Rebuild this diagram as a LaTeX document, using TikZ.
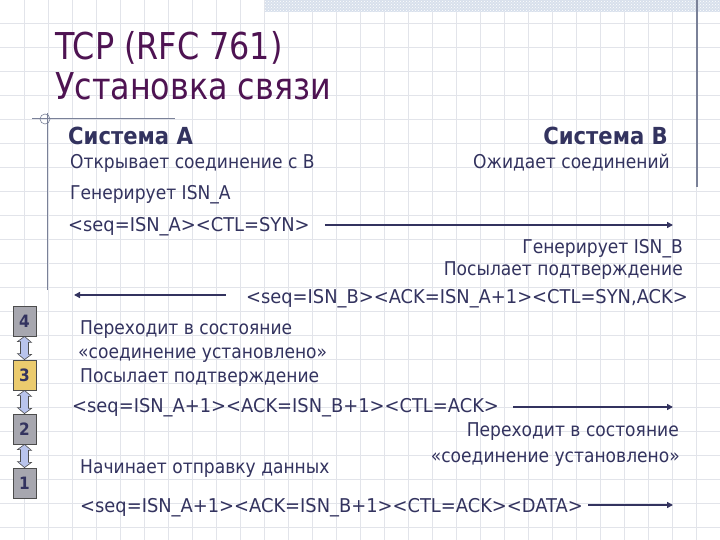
\documentclass[tikz,border=0pt]{standalone}
\usepackage{fontspec}
\setmainfont[FakeStretch=0.9]{DejaVu Sans}
\newfontfamily\titlefont[FakeStretch=0.86]{DejaVu Sans}
\newfontfamily\msgfont[FakeStretch=0.94]{DejaVu Sans}
\usetikzlibrary{arrows.meta,patterns}
\definecolor{gridc}{HTML}{E2E4EA}
\definecolor{bandc}{HTML}{D8E0EC}
\definecolor{linec}{HTML}{7A8198}
\definecolor{titlec}{HTML}{4E1352}
\definecolor{txtc}{HTML}{33335F}
\definecolor{boxgray}{HTML}{A7A7AF}
\definecolor{boxyel}{HTML}{EBCB6E}
\definecolor{arrfill}{HTML}{B9C4EC}
\tikzset{
  title/.style={anchor=base west, inner sep=0pt, text=titlec, font=\titlefont\fontsize{37}{40}\selectfont},
  head/.style={inner sep=0pt, text=txtc, font=\fontsize{23.5}{26}\selectfont\bfseries},
  txtL/.style={anchor=base west, inner sep=0pt, text=txtc, font=\fontsize{19}{21}\selectfont},
  txtR/.style={anchor=base east, inner sep=0pt, text=txtc, font=\fontsize{19}{21}\selectfont},
  msgL/.style={txtL, font=\msgfont\fontsize{19}{21}\selectfont},
  msgR/.style={txtR, font=\msgfont\fontsize{19}{21}\selectfont},
  msg/.style={draw=txtc, line width=2pt, -{Triangle[length=6pt,width=6pt]}},
  numbox/.style={draw=black!70, line width=0.8pt, minimum width=23pt, minimum height=30pt, inner sep=0pt, text=txtc, font=\fontsize{17}{18}\selectfont\bfseries},
  dblarr/.style={draw=black!70, fill=arrfill, line width=0.6pt, line join=miter}
}
\begin{document}
\begin{tikzpicture}[x=1pt,y=-1pt]
\useasboundingbox (0,0) rectangle (720,540);
\fill[white] (0,0) rectangle (720,540);
% grid
\foreach \i in {1,...,29} \draw[gridc, line width=0.7pt] (24*\i,0) -- (24*\i,540);
\foreach \j in {1,...,22} \draw[gridc, line width=0.7pt] (0,24*\j-1) -- (720,24*\j-1);
% hatched band
\fill[bandc] (265,0) rectangle (720,12);
\fill[pattern=crosshatch dots, pattern color=white] (265,0) rectangle (720,12);
% frame lines
\draw[linec, line width=1.2pt] (697,0) -- (697,187);
\draw[linec, line width=1pt] (47,113) -- (47,290);
\draw[linec, line width=1pt] (32,119) -- (175,119);
\draw[linec, line width=0.6pt] (45,119) circle (5);
% title
\node[title] (t1) at (55,60) {TCP (RFC 761)};
\node[title] (t2) at (55,100) {Установка связи};
% headers
\node[head, anchor=base west] (hA) at (68,145) {Система А};
\node[head, anchor=base east] (hB) at (668,145) {Система B};
% system A texts
\node[txtL] (a1) at (70,169) {Открывает соединение с В};
\node[txtL] (a2) at (70,200) {Генерирует ISN\_A};
\node[msgL] (a3) at (68,232) {<seq=ISN\_A><CTL=SYN>};
\node[txtL] (a4) at (80,334) {Переходит в состояние};
\node[txtL] (a5) at (78,358) {«соединение установлено»};
\node[txtL] (a6) at (80,382) {Посылает подтверждение};
\node[msgL] (a7) at (72,412) {<seq=ISN\_A+1><ACK=ISN\_B+1><CTL=ACK>};
\node[txtL] (a8) at (80,473) {Начинает отправку данных};
\node[msgL] (a9) at (80,512) {<seq=ISN\_A+1><ACK=ISN\_B+1><CTL=ACK><DATA>};
% system B texts
\node[txtR] (b1) at (670,169) {Ожидает соединений};
\node[txtR] (b2) at (683,253) {Генерирует ISN\_B};
\node[txtR] (b3) at (683,275) {Посылает подтверждение};
\node[msgR] (b4) at (688,303) {<seq=ISN\_B><ACK=ISN\_A+1><CTL=SYN,ACK>};
\node[txtR] (b5) at (679,436) {Переходит в состояние};
\node[txtR] (b6) at (680,462) {«соединение установлено»};
% message arrows
\coordinate (e1) at (673,225);
\coordinate (e2) at (74,295);
\coordinate (e3) at (673,407);
\coordinate (e4) at (673,505);
\draw[msg] ([xshift=15pt]a3.east |- e1) -- (e1);
\draw[msg] ([xshift=-20pt]b4.west |- e2) -- (e2);
\draw[msg] ([xshift=14pt]a7.east |- e3) -- (e3);
\draw[msg] ([xshift=5pt]a9.east |- e4) -- (e4);
% numbered boxes
\node[numbox, fill=boxgray] (n4) at (24.5,321) {4};
\node[numbox, fill=boxyel] (n3) at (24.5,375) {3};
\node[numbox, fill=boxgray] (n2) at (24.5,429) {2};
\node[numbox, fill=boxgray] (n1) at (24.5,483) {1};
% double block arrows between boxes
\draw[dblarr] (n4.south) -- ++(7,6) -- ++(-3,0) -- ++(0,12) -- ++(3,0) -- (n3.north) -- ++(-7,-6) -- ++(3,0) -- ++(0,-12) -- ++(-3,0) -- cycle;
\draw[dblarr] (n3.south) -- ++(7,6) -- ++(-3,0) -- ++(0,12) -- ++(3,0) -- (n2.north) -- ++(-7,-6) -- ++(3,0) -- ++(0,-12) -- ++(-3,0) -- cycle;
\draw[dblarr] (n2.south) -- ++(7,6) -- ++(-3,0) -- ++(0,12) -- ++(3,0) -- (n1.north) -- ++(-7,-6) -- ++(3,0) -- ++(0,-12) -- ++(-3,0) -- cycle;
\end{tikzpicture}
\end{document}
